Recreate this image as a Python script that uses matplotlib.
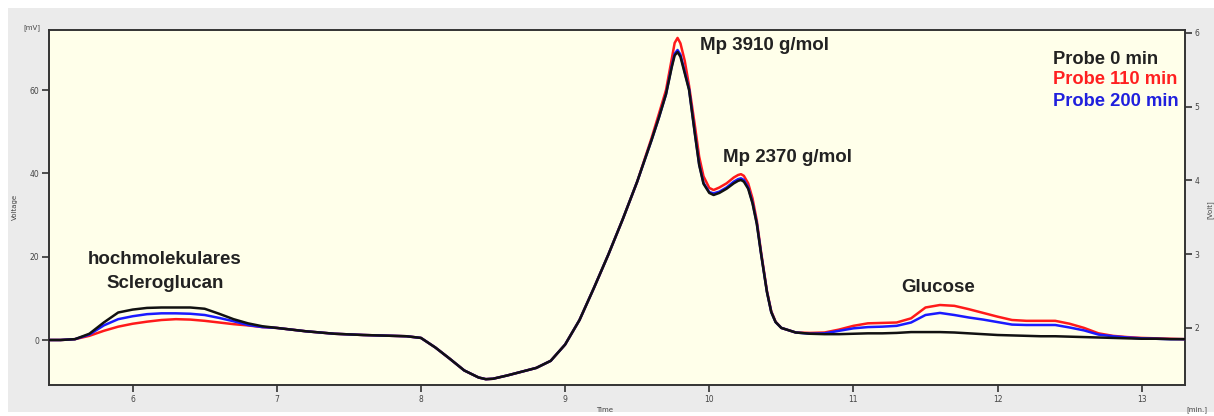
import matplotlib
matplotlib.use("Agg")
import matplotlib.pyplot as plt
from matplotlib.patches import Rectangle

# ---------------- data ----------------
time_min = [5.42, 5.5, 5.6, 5.7, 5.8, 5.9, 6.0, 6.1, 6.2, 6.3, 6.4, 6.5, 6.6, 6.7, 6.8, 6.9,
            7.0, 7.2, 7.4, 7.6, 7.8, 7.9, 8.0, 8.1, 8.2, 8.3, 8.4, 8.45, 8.5, 8.6, 8.7, 8.8,
            8.9, 9.0, 9.1, 9.2, 9.3, 9.4, 9.5, 9.6, 9.65, 9.7, 9.74, 9.76, 9.78, 9.8, 9.83, 9.86,
            9.9, 9.93, 9.96, 10.0, 10.03, 10.07, 10.12, 10.17, 10.2, 10.22, 10.24, 10.27, 10.3,
            10.33, 10.36, 10.4,
            10.43, 10.46, 10.5, 10.6, 10.7, 10.8, 10.9, 11.0, 11.1, 11.2, 11.3, 11.4, 11.5, 11.6,
            11.7, 11.8,
            11.9, 12.0, 12.1, 12.2, 12.3, 12.4, 12.5, 12.6, 12.7, 12.8, 12.9, 13.0, 13.1, 13.2, 13.3]

probe_0 = [0.0, 0.0, 0.2, 1.5, 4.2, 6.6, 7.3, 7.7, 7.8, 7.8, 7.8, 7.5, 6.3, 5.0, 4.0, 3.3,
           2.9, 2.1, 1.5, 1.2, 1.0, 0.9, 0.5, -1.8, -4.5, -7.3, -9.0, -9.4, -9.3, -8.5, -7.6, -6.7,
           -5.0, -1.1, 4.8, 12.5, 20.5, 29.0, 38.0, 48.0, 53.3, 59.0, 65.5, 68.3, 69.1, 68.0, 64.0, 60.0,
           49.5, 42.0, 37.5, 35.3, 34.8, 35.3, 36.3, 37.6, 38.2, 38.4, 38.0, 36.3, 32.8, 27.8, 20.5, 11.5,
           6.7, 4.3, 2.9, 1.8, 1.5, 1.4, 1.4, 1.5, 1.6, 1.6, 1.7, 1.9, 1.9, 1.9, 1.8, 1.6,
           1.4, 1.2, 1.1, 1.0, 0.9, 0.9, 0.8, 0.7, 0.6, 0.5, 0.4, 0.3, 0.3, 0.2, 0.2]

probe_110 = [0.0, 0.0, 0.2, 1.0, 2.2, 3.2, 3.9, 4.4, 4.8, 5.0, 4.9, 4.6, 4.2, 3.8, 3.5, 3.1,
             2.9, 2.1, 1.5, 1.2, 1.0, 0.9, 0.5, -1.8, -4.5, -7.3, -9.0, -9.4, -9.3, -8.5, -7.6, -6.7,
             -5.0, -1.1, 4.8, 12.5, 20.5, 29.0, 38.0, 48.5, 54.2, 60.0, 67.5, 71.3, 72.5, 71.2, 67.0, 61.0,
             51.5, 44.0, 39.3, 36.5, 36.0, 36.6, 37.6, 39.0, 39.6, 39.8, 39.4, 37.6, 34.0, 28.6, 21.0, 11.8,
             6.9, 4.4, 2.9, 1.8, 1.7, 1.8, 2.5, 3.4, 4.0, 4.1, 4.2, 5.2, 7.8, 8.4, 8.2, 7.4,
             6.5, 5.6, 4.8, 4.6, 4.6, 4.6, 3.9, 2.9, 1.6, 1.0, 0.7, 0.5, 0.4, 0.3, 0.2]

probe_200 = [0.0, 0.0, 0.2, 1.3, 3.5, 5.0, 5.7, 6.2, 6.4, 6.4, 6.3, 6.0, 5.3, 4.5, 3.6, 3.1,
             2.9, 2.1, 1.5, 1.2, 1.0, 0.9, 0.5, -1.8, -4.5, -7.3, -9.0, -9.4, -9.3, -8.5, -7.6, -6.7,
             -5.0, -1.1, 4.8, 12.5, 20.5, 29.0, 38.0, 48.0, 53.3, 59.0, 65.8, 68.7, 69.6, 68.5, 64.3, 60.2,
             49.7, 42.2, 37.7, 35.5, 35.2, 35.6, 36.6, 38.0, 38.6, 38.8, 38.4, 36.6, 33.0, 28.0, 20.6, 11.6,
             6.7, 4.3, 2.9, 1.8, 1.5, 1.6, 2.2, 2.8, 3.1, 3.2, 3.4, 4.2, 6.0, 6.5, 6.0, 5.4,
             4.9, 4.3, 3.7, 3.6, 3.6, 3.6, 3.0, 2.3, 1.3, 0.9, 0.6, 0.4, 0.3, 0.2, 0.2]

series_labels = ["Probe 0 min", "Probe 110 min", "Probe 200 min"]
x_ticks = [6, 7, 8, 9, 10, 11, 12, 13]
y_ticks = [0, 20, 40, 60]
y2_ticks = [2, 3, 4, 5, 6]

# ---------------- figure ----------------
W, H = 1214, 416
fig = plt.figure(figsize=(W / 100, H / 100), dpi=100)
fig.patch.set_facecolor("white")
bg = Rectangle((8 / W, 4 / H), 1 - 8 / W, (H - 12) / H,
               transform=fig.transFigure, facecolor="#ebebeb",
               edgecolor="none", zorder=-10)
fig.add_artist(bg)

ax = fig.add_axes([49 / W, 1 - 385 / H, (1185 - 49) / W, (385 - 30) / H])
ax.set_zorder(2)
ax.set_facecolor("#ffffea")

line_kw = dict(lw=1.8, solid_joinstyle="round", solid_capstyle="round")
ax.plot(time_min, probe_110, color="#ff1a1a", zorder=3, **line_kw)
ax.plot(time_min, probe_200, color="#1a1aff", zorder=4, **line_kw)
ax.plot(time_min, probe_0, color="#111111", zorder=5, **line_kw)

ax.set_xlim(5.42, 13.30)
ax.set_ylim(-10.8, 74.4)
ax.set_xticks(x_ticks)
ax.set_yticks(y_ticks)

spine_c = "#333333"
for s in ax.spines.values():
    s.set_color(spine_c)
    s.set_linewidth(1.4)
ax.tick_params(axis="both", direction="out", length=5, width=1.2, colors=spine_c,
               labelsize=5.5, labelcolor="#444444", pad=2)

ax2 = ax.twinx()
ax2.set_zorder(3)
ax2.set_ylim(1.227, 6.04)
ax2.set_yticks(y2_ticks)
ax2.tick_params(axis="y", direction="out", length=5, width=1.2, colors=spine_c,
                labelsize=5.5, labelcolor="#444444", pad=2)
for s in ax2.spines.values():
    s.set_visible(False)

# axis captions
cap = dict(fontsize=5, color="#444444", ha="center", va="center", zorder=5)
fig.text(32 / W, 1 - 28 / H, "[mV]", **cap)
fig.text(15 / W, 1 - 207 / H, "Voltage", rotation=90, **cap)
fig.text(605 / W, 1 - 410 / H, "Time", **cap)
fig.text(1197 / W, 1 - 410 / H, "[min.]", **cap)
fig.text(1210 / W, 1 - 210 / H, "[Volt]", rotation=90, **cap)

# annotations
bold = dict(fontsize=13.5, fontweight="bold", color="#222222", family="Liberation Sans",
            zorder=6)
fig.text(165 / W, 1 - 260 / H, "hochmolekulares", ha="center", va="center", **bold)
fig.text(165 / W, 1 - 283 / H, "Scleroglucan", ha="center", va="center", **bold)
fig.text(700 / W, 1 - 46 / H, "Mp 3910 g/mol", ha="left", va="center", **bold)
fig.text(723 / W, 1 - 157 / H, "Mp 2370 g/mol", ha="left", va="center", **bold)
fig.text(938 / W, 1 - 287 / H, "Glucose", ha="center", va="center", **bold)

legend_colors = ["#222222", "#ff2020", "#2020dd"]
legend_y = [59, 80, 101]
for lab, c, yy in zip(series_labels, legend_colors, legend_y):
    fig.text(1053 / W, 1 - yy / H, lab, ha="left", va="center", fontsize=13.2,
             fontweight="bold", color=c, family="Liberation Sans", zorder=6)

fig.savefig("out.png", dpi=100, facecolor=fig.get_facecolor())
